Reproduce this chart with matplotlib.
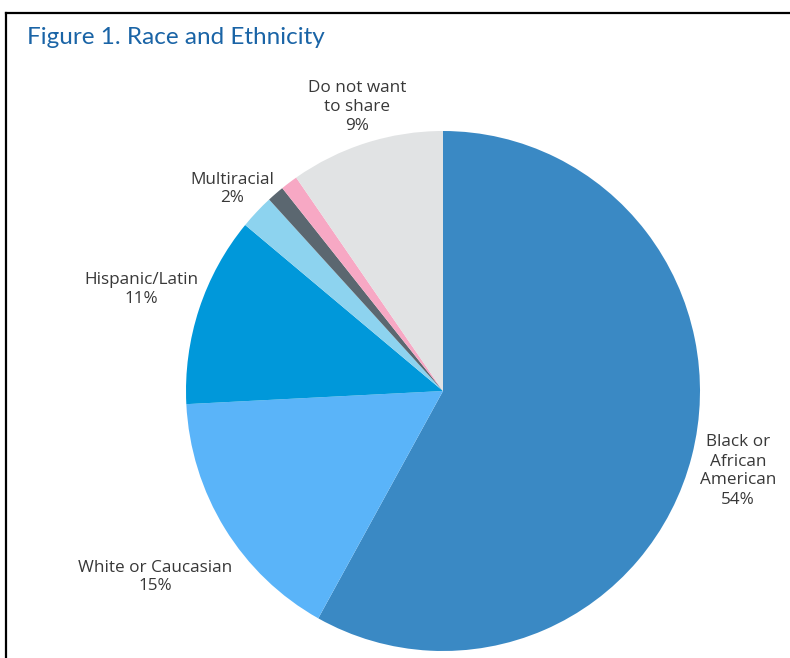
import matplotlib
matplotlib.use("Agg")
import matplotlib.pyplot as plt
from matplotlib.lines import Line2D

# Data
categories = ["Black or\nAfrican\nAmerican", "White or Caucasian", "Hispanic/Latin",
              "Multiracial", "Other A", "Other B", "Do not want\nto share"]
values = [54, 15, 11, 2, 1, 1, 9]
label_pct = ["54%", "15%", "11%", "2%", None, None, "9%"]
colors = ["#3a89c4", "#5ab4f9", "#0098da", "#8dd3ef", "#5b6770", "#f7a8c4", "#e1e3e4"]

W, H = 790, 658
fig = plt.figure(figsize=(W / 100, H / 100), dpi=100)
fig.patch.set_facecolor("white")

cx, cy, rx, ry = 443, 391, 257, 260
ax = fig.add_axes([(cx - rx) / W, (H - cy - ry) / H, 2 * rx / W, 2 * ry / H])
ax.pie(values, colors=colors, startangle=90, counterclock=False,
       wedgeprops=dict(linewidth=0))
ax.set_xlim(-1, 1)
ax.set_ylim(-1, 1)
ax.set_aspect("auto")
ax.axis("off")

# label positions in pixel coordinates (center of text block)
label_pos = {
    0: (738, 471),
    1: (155, 577),
    2: (141, 290),
    3: (232, 189),
    6: (357, 107),
}
font = "Open Sans"
for i, (x, y) in label_pos.items():
    txt = categories[i] + "\n" + label_pct[i]
    fig.text(x / W, 1 - y / H, txt, ha="center", va="center", fontsize=12.3,
             color="#383838", family=font, linespacing=1.25)

# title
fig.text(27 / W, 1 - 37 / H, "Figure 1. Race and Ethnicity", ha="left", va="center",
         fontsize=17.5, color="#1a64a6", family="Lato")

# frame lines
fig.add_artist(Line2D([6 / W, 1.0], [1 - 12.5 / H, 1 - 12.5 / H], color="black",
                      linewidth=1.6, transform=fig.transFigure))
fig.add_artist(Line2D([6 / W, 6 / W], [1 - 12.5 / H, 0], color="black",
                      linewidth=1.6, transform=fig.transFigure))

fig.savefig("out.png", dpi=100)
